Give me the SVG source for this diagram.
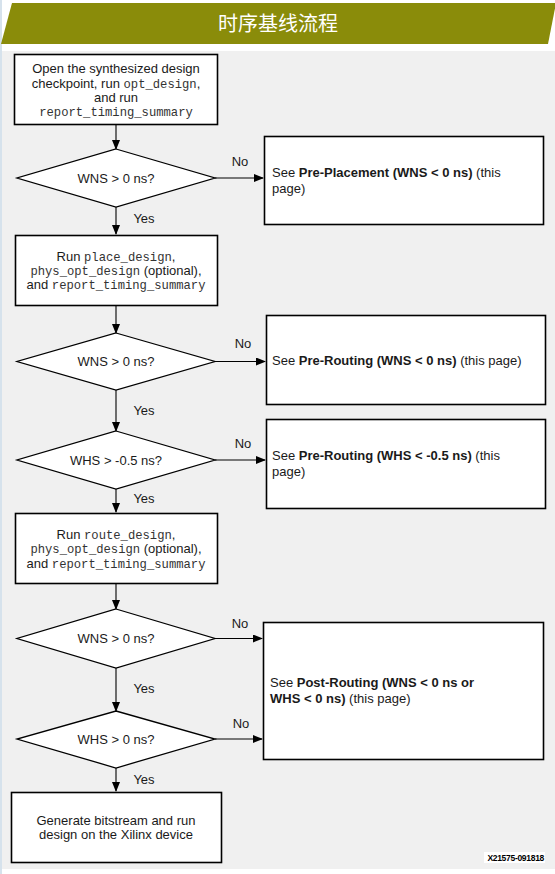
<svg xmlns="http://www.w3.org/2000/svg" width="555" height="874" viewBox="0 0 555 874">
<defs>
<marker id="arr" markerWidth="10" markerHeight="8" refX="9" refY="4" orient="auto" markerUnits="userSpaceOnUse">
<path d="M0,0 L10,4 L0,8 Z" fill="#000"/>
</marker>
<style>
.box{fill:#fff;stroke:#000;stroke-width:1.6}
.dia{fill:#fff;stroke:#000;stroke-width:1.3}
.t{font-family:"Liberation Sans",Arial,sans-serif;font-size:13px;fill:#1a1a1a}
.c{text-anchor:middle}
.m{font-family:"Liberation Mono","Courier New",monospace;font-size:12.2px;fill:#333}
.b{font-weight:bold}
.ln{stroke:#000;stroke-width:1.1;fill:none;marker-end:url(#arr)}
.lbl{font-family:"Liberation Sans",Arial,sans-serif;font-size:13px;fill:#1a1a1a;text-anchor:middle}
</style>
</defs>
<rect x="0" y="0" width="555" height="874" fill="#fff"/>
<rect x="0" y="51" width="555" height="818" fill="#f0f0f0"/>
<rect x="0" y="0" width="2" height="874" fill="#d6e2ec"/>
<g id="header">
<polygon points="12,3 556,3 548,44 1,44" fill="#8a8c0a"/>
<text x="278" y="31" text-anchor="middle" font-family="'Noto Sans CJK SC',sans-serif" font-size="20" fill="#fff">时序基线流程</text>
</g>
<g id="connectors">
<line class="ln" x1="116" y1="125" x2="116" y2="149"/>
<line class="ln" x1="215" y1="178" x2="263" y2="178"/>
<line class="ln" x1="116" y1="207" x2="116" y2="234"/>
<line class="ln" x1="116" y1="305" x2="116" y2="333"/>
<line class="ln" x1="215" y1="361.5" x2="265" y2="361.5"/>
<line class="ln" x1="116" y1="390" x2="116" y2="431"/>
<line class="ln" x1="215" y1="460" x2="265" y2="460"/>
<line class="ln" x1="116" y1="489" x2="116" y2="512"/>
<line class="ln" x1="116" y1="584" x2="116" y2="609"/>
<line class="ln" x1="215" y1="638.5" x2="262" y2="638.5"/>
<line class="ln" x1="116" y1="668" x2="116" y2="711"/>
<line class="ln" x1="215" y1="739" x2="262" y2="739"/>
<line class="ln" x1="116" y1="768" x2="116" y2="791"/>
<text class="lbl" x="240" y="166">No</text>
<text class="lbl" x="243" y="348">No</text>
<text class="lbl" x="243" y="448">No</text>
<text class="lbl" x="240" y="628">No</text>
<text class="lbl" x="241" y="728">No</text>
<text class="lbl" x="144" y="223">Yes</text>
<text class="lbl" x="144" y="415">Yes</text>
<text class="lbl" x="144" y="503">Yes</text>
<text class="lbl" x="144" y="693">Yes</text>
<text class="lbl" x="144" y="784">Yes</text>
</g>
<g id="n1">
<rect class="box" x="14.5" y="54.5" width="203" height="70"/>
<text class="t c" x="116" y="72.5">Open the synthesized design</text>
<text class="t c" x="116" y="87.5">checkpoint, run <tspan class="m">opt_design</tspan>,</text>
<text class="t c" x="116" y="101.5">and run</text>
<text class="t c" x="116" y="116"><tspan class="m">report_timing_summary</tspan></text>
</g>
<g id="d1">
<polygon class="dia" points="116,149 215,178 116,207 17,178"/>
<text class="t c" x="116" y="182.5">WNS &gt; 0 ns?</text>
</g>
<g id="r1">
<rect class="box" x="264.5" y="136.5" width="279" height="88"/>
<text class="t" x="272" y="177">See <tspan class="b">Pre-Placement (WNS &lt; 0 ns)</tspan> (this</text>
<text class="t" x="272" y="193">page)</text>
</g>
<g id="n2">
<rect class="box" x="15.5" y="235.5" width="202" height="70"/>
<text class="t c" x="116" y="260.5">Run <tspan class="m">place_design</tspan>,</text>
<text class="t c" x="116" y="274.5"><tspan class="m">phys_opt_design</tspan> (optional),</text>
<text class="t c" x="116" y="289">and <tspan class="m">report_timing_summary</tspan></text>
</g>
<g id="d2">
<polygon class="dia" points="116,333 215,361.5 116,390 17,361.5"/>
<text class="t c" x="116" y="366">WNS &gt; 0 ns?</text>
</g>
<g id="r2">
<rect class="box" x="266.5" y="315.5" width="279" height="89"/>
<text class="t" x="272" y="364.5">See <tspan class="b">Pre-Routing (WNS &lt; 0 ns)</tspan> (this page)</text>
</g>
<g id="d3">
<polygon class="dia" points="116,431 215,460 116,489 17,460"/>
<text class="t c" x="116" y="464.5">WHS &gt; -0.5 ns?</text>
</g>
<g id="r3">
<rect class="box" x="266.5" y="419.5" width="279" height="89"/>
<text class="t" x="272" y="460">See <tspan class="b">Pre-Routing (WHS &lt; -0.5 ns)</tspan> (this</text>
<text class="t" x="272" y="476">page)</text>
</g>
<g id="n3">
<rect class="box" x="15.5" y="513.5" width="202" height="70"/>
<text class="t c" x="116" y="538.5">Run <tspan class="m">route_design</tspan>,</text>
<text class="t c" x="116" y="552.5"><tspan class="m">phys_opt_design</tspan> (optional),</text>
<text class="t c" x="116" y="567.5">and <tspan class="m">report_timing_summary</tspan></text>
</g>
<g id="d4">
<polygon class="dia" points="116,609 215,638.5 116,668 17,638.5"/>
<text class="t c" x="116" y="643">WNS &gt; 0 ns?</text>
</g>
<g id="d5">
<polygon class="dia" points="116,711 215,739 116,768 17,739"/>
<text class="t c" x="116" y="743.5">WHS &gt; 0 ns?</text>
</g>
<g id="r4">
<rect class="box" x="263.5" y="622.5" width="280" height="137"/>
<text class="t" x="270" y="687">See <tspan class="b">Post-Routing (WNS &lt; 0 ns or</tspan></text>
<text class="t" x="270" y="702.5"><tspan class="b">WHS &lt; 0 ns)</tspan> (this page)</text>
</g>
<g id="n4">
<rect class="box" x="11.5" y="792.5" width="210" height="70" stroke-width="2"/>
<text class="t c" x="116" y="824.5">Generate bitstream and run</text>
<text class="t c" x="116" y="838.5">design on the Xilinx device</text>
</g>
<g id="ref">
<rect x="484" y="852" width="61" height="11" fill="#fff"/>
<text x="544" y="861" text-anchor="end" font-family="'Liberation Sans',Arial,sans-serif" font-size="8.5" font-weight="bold" fill="#000" letter-spacing="-0.3">X21575-091818</text>
</g>
</svg>
